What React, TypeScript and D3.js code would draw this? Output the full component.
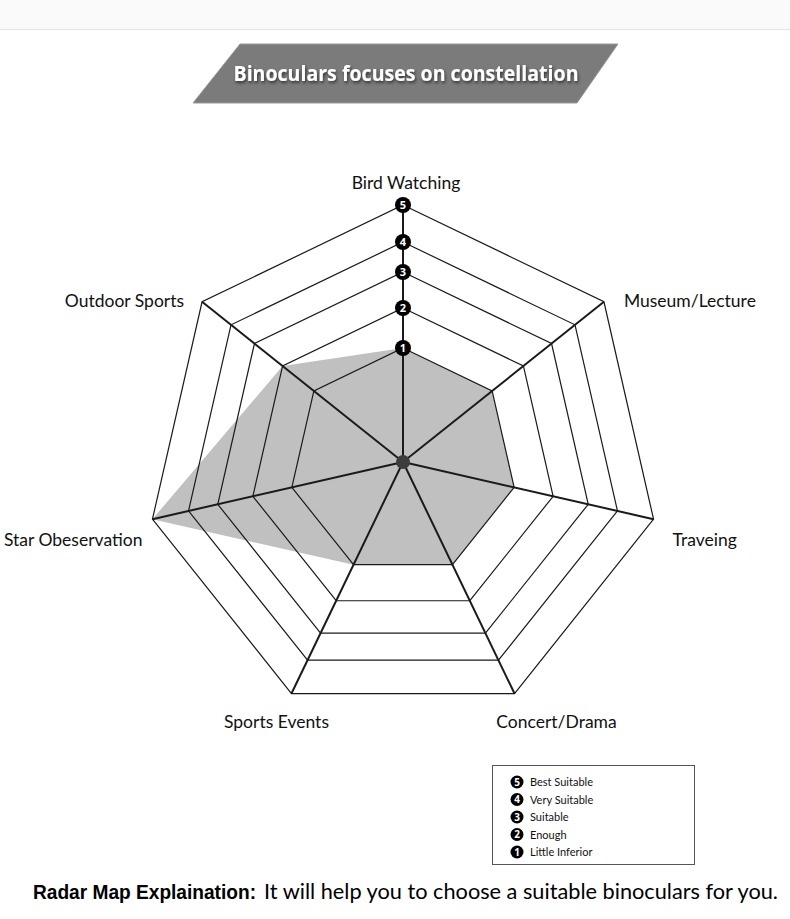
import { useEffect, useRef } from 'react';
import * as d3 from 'd3';

const axes = [
  'Bird Watching',
  'Museum/Lecture',
  'Traveing',
  'Concert/Drama',
  'Sports Events',
  'Star Obeservation',
  'Outdoor Sports'
];
const ratings = [1, 1, 1, 1, 1, 5, 2];
const levels = [1, 2, 3, 4, 5];
const levelNames = ['Little Inferior', 'Enough', 'Suitable', 'Very Suitable', 'Best Suitable'];
const titleText = 'Binoculars focuses on constellation';
const footLead = 'Radar Map Explaination:';
const footText = 'It will help you to choose a suitable binoculars for you.';

export default function App() {
  const svgRef = useRef<SVGSVGElement>(null);

  useEffect(() => {
    const svg = d3.select(svgRef.current);
    svg.selectAll('*').remove();

    const width = 790;
    const height = 919;
    const cx = 403;
    const cy = 462;
    const font = 'Lato, "Open Sans", sans-serif';

    svg.attr('width', width).attr('height', height);

    svg.append('rect').attr('width', width).attr('height', height).attr('fill', '#fff');
    svg.append('rect').attr('width', width).attr('height', 29).attr('fill', '#fafafa');
    svg.append('line')
      .attr('x1', 0).attr('x2', width).attr('y1', 29.5).attr('y2', 29.5)
      .attr('stroke', '#e4e4e4');

    // title banner
    const defs = svg.append('defs');
    const f = defs.append('filter').attr('id', 'glow').attr('x', '-10%').attr('y', '-40%')
      .attr('width', '120%').attr('height', '180%');
    f.append('feGaussianBlur').attr('in', 'SourceAlpha').attr('stdDeviation', 1.6).attr('result', 'b');
    f.append('feOffset').attr('in', 'b').attr('dx', 1).attr('dy', 2).attr('result', 'o');
    f.append('feFlood').attr('flood-color', '#2a2a2a').attr('flood-opacity', 0.9);
    f.append('feComposite').attr('in2', 'o').attr('operator', 'in').attr('result', 's');
    const m = f.append('feMerge');
    m.append('feMergeNode').attr('in', 's');
    m.append('feMergeNode').attr('in', 'SourceGraphic');

    svg.append('path')
      .attr('d', 'M240,44 L618,44 L577,103 L193,103 Z')
      .attr('fill', '#7b7b7b')
      .attr('stroke', '#9a9a9a');

    svg.append('text')
      .attr('x', 406)
      .attr('y', 81)
      .attr('text-anchor', 'middle')
      .attr('textLength', 345)
      .attr('lengthAdjust', 'spacingAndGlyphs')
      .attr('filter', 'url(#glow)')
      .style('font-family', '"Open Sans", sans-serif')
      .style('font-weight', 'bold')
      .style('font-size', '22px')
      .style('fill', '#fff')
      .text(titleText);

    // radar
    const angle = d3.scaleLinear().domain([0, axes.length]).range([0, 2 * Math.PI]);
    const r = d3.scaleLinear().domain([0, 1, 2, 3, 4, 5]).range([0, 114, 154, 190, 220, 257]);
    const pt = (i: number, v: number): [number, number] => [
      cx + r(v) * Math.sin(angle(i)),
      cy - r(v) * Math.cos(angle(i))
    ];

    const g = svg.append('g');

    const area = axes.map((_, i) => pt(i, ratings[i]));
    g.append('path')
      .attr('d', d3.line()(area) + 'Z')
      .attr('fill', '#c0c0c0');

    levels.forEach(lv => {
      const ring = axes.map((_, i) => pt(i, lv));
      g.append('path')
        .attr('d', d3.line()(ring) + 'Z')
        .attr('fill', 'none')
        .attr('stroke', '#1a1a1a')
        .attr('stroke-width', 1.2)
        .attr('stroke-linejoin', 'miter');
    });

    axes.forEach((_, i) => {
      const [x2, y2] = pt(i, 5);
      g.append('line')
        .attr('x1', cx).attr('y1', cy)
        .attr('x2', x2).attr('y2', y2)
        .attr('stroke', '#1a1a1a')
        .attr('stroke-width', 2);
    });

    g.append('circle').attr('cx', cx).attr('cy', cy).attr('r', 7).attr('fill', '#3c3c3c');

    // badges on first axis
    levels.forEach(lv => {
      const [x, y] = pt(0, lv);
      g.append('circle').attr('cx', x).attr('cy', y).attr('r', 8).attr('fill', '#000');
      g.append('text')
        .attr('x', x).attr('y', y + 4)
        .attr('text-anchor', 'middle')
        .style('font-family', '"Open Sans", sans-serif')
        .style('font-weight', 'bold')
        .style('font-size', '11px')
        .style('fill', '#fff')
        .text(lv);
    });

    // axis labels
    axes.forEach((name, i) => {
      const s = Math.sin(angle(i));
      const c = Math.cos(angle(i));
      const [vx, vy] = pt(i, 5);
      let x = vx;
      let y = vy;
      let anchor = 'middle';
      if (Math.abs(s) < 0.1) {
        x = vx + 3;
        y = vy - 16;
      } else if (c < -0.5) {
        x = vx + (s > 0 ? 42 : -15);
        y = vy + 34;
      } else if (Math.abs(s) > 0.9) {
        anchor = s > 0 ? 'start' : 'end';
        x = vx + (s > 0 ? 19 : -10);
        y = vy + 27;
      } else {
        anchor = s > 0 ? 'start' : 'end';
        x = vx + (s > 0 ? 20 : -18);
        y = vy + 5;
      }
      svg.append('text')
        .attr('x', x)
        .attr('y', y)
        .attr('text-anchor', anchor)
        .style('font-family', font)
        .style('font-size', '17.5px')
        .style('fill', '#111')
        .text(name);
    });

    // legend
    const lx = 492;
    const ly = 765;
    svg.append('rect')
      .attr('x', lx + 0.5).attr('y', ly + 0.5)
      .attr('width', 202).attr('height', 99)
      .attr('fill', '#fff')
      .attr('stroke', '#555');

    const ry = d3.scaleLinear().domain([5, 1]).range([782, 852]);
    levels.forEach((lv, i) => {
      const y = ry(lv);
      svg.append('circle').attr('cx', 517).attr('cy', y).attr('r', 6.5).attr('fill', '#000');
      svg.append('text')
        .attr('x', 517).attr('y', y + 3.5)
        .attr('text-anchor', 'middle')
        .style('font-family', '"Open Sans", sans-serif')
        .style('font-weight', 'bold')
        .style('font-size', '10px')
        .style('fill', '#fff')
        .text(lv);
      svg.append('text')
        .attr('x', 530).attr('y', y + 4)
        .style('font-family', font)
        .style('font-size', '11px')
        .style('fill', '#111')
        .text(levelNames[i]);
    });

    // footer
    svg.append('text')
      .attr('x', 33)
      .attr('y', 899)
      .attr('textLength', 223)
      .attr('lengthAdjust', 'spacingAndGlyphs')
      .style('font-family', '"Liberation Sans Narrow", "Liberation Sans", sans-serif')
      .style('font-weight', 'bold')
      .style('font-size', '21px')
      .style('fill', '#000')
      .text(footLead);

    svg.append('text')
      .attr('x', 264)
      .attr('y', 899)
      .attr('textLength', 514)
      .attr('lengthAdjust', 'spacingAndGlyphs')
      .style('font-family', font)
      .style('font-size', '21px')
      .style('fill', '#000')
      .text(footText);
  }, []);

  return (
    <svg
      ref={svgRef}
      style={{ position: 'absolute', left: 0, top: 0, display: 'block' }}
    ></svg>
  );
}
